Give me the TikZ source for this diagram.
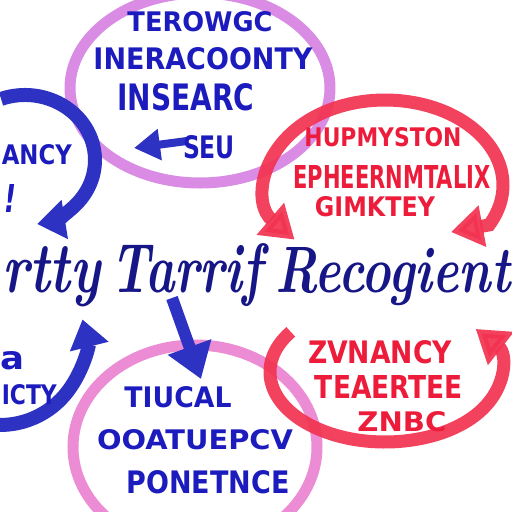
\documentclass[tikz,border=0pt]{standalone}
\usepackage{fontspec}
\setsansfont{DejaVu Sans}
\usetikzlibrary{arrows.meta,shapes.geometric}
\definecolor{tblue}{RGB}{28,28,190}
\definecolor{navy}{RGB}{22,22,135}
\definecolor{arcblue}{RGB}{45,50,195}
\definecolor{pinkv}{RGB}{218,140,228}
\definecolor{pinkb}{RGB}{236,140,212}
\definecolor{tred}{RGB}{236,28,58}
\definecolor{arcred}{RGB}{242,50,80}
\newcommand{\fitt}[3]{\resizebox{#1pt}{#2pt}{\sffamily\bfseries #3}}
\newcommand{\bigfit}[3]{\resizebox{#1pt}{#2pt}{\bfseries\itshape #3}}
\begin{document}
\begin{tikzpicture}[x=1pt,y=-1pt,
  lbl/.style={inner sep=0pt,text=tblue},
  rlbl/.style={inner sep=0pt,text=tred},
  pinkring/.style={draw,ellipse,line width=11pt,inner sep=0pt},
  bluearc/.style={draw=arcblue,line width=14pt,-{Triangle[width=38pt,length=28pt]}},
  redarc/.style={draw=arcred,line width=13pt,opacity=0.92},
  redhead/.style={-{Triangle[width=40pt,length=32pt]}},
  bigword/.style={inner sep=0pt,text=navy}]
\useasboundingbox (0,0) rectangle (512,512);
\clip (0,0) rectangle (512,512);
\fill[white] (0,0) rectangle (512,512);
% pink rings
\node[pinkring,draw=pinkv,minimum width=260pt,minimum height=190pt] (topring) at (200,88) {};
\node[pinkring,draw=pinkb,minimum width=244pt,minimum height=204pt] (botring) at (195,447) {};
% left blue arc
\draw[bluearc] (25,160) ++(-110:70 and 65) arc[start angle=-110,end angle=80,x radius=70,y radius=65];
% bottom-left blue arc
\draw[bluearc] (0,340) ++(100:85) arc[start angle=100,end angle=-14,radius=85];
% upper red arc (both ends with heads)
\coordinate (rtip) at (451,232);
\draw[redarc,{Triangle[width=40pt,length=32pt]}-{Triangle[width=40pt,length=32pt]}] (385,185) ++(140:118 and 85) arc[start angle=140,end angle=388,x radius=118,y radius=85] -- (rtip);
% lower red arc
\draw[redarc,redhead] (385,372) ++(215:115 and 70) arc[start angle=215,end angle=-38,x radius=115,y radius=70];
% small blue arrows
\coordinate (sa1) at (187,141);
\coordinate (sa2) at (134,148);
\draw[draw=arcblue,line width=8pt,-{Triangle[width=30pt,length=26pt]}] (sa1) -- (sa2);
\coordinate (ba1) at (172,298);
\coordinate (ba2) at (201,379);
\draw[draw=arcblue,line width=12pt,-{Triangle[width=44pt,length=34pt]}] (ba1) -- (ba2);
% top ring texts
\node[lbl] (t1) at (200,22) {\fitt{145}{20}{TEROWGC}};
\node[lbl] (t2) at (203,59) {\fitt{219}{22}{INERACOONTY}};
\node[lbl] (t3) at (186,97) {\fitt{137}{27}{INSEARC}};
\node[lbl] (t4) at (209,147) {\fitt{52}{23}{SEU}};
% left texts
\node[lbl,anchor=east] (l1) at (72,155) {\fitt{70}{20}{ANCY}};
\node[lbl] (l2) at (11,198) {\fitt{12}{28}{\itshape !}};
\node[lbl] (l3) at (13,361) {\fitt{24}{18}{a}};
\node[lbl,anchor=east] (l4) at (57,395) {\fitt{55}{20}{ICTY}};
% upper red texts
\node[rlbl] (r1) at (383,137) {\fitt{157}{19}{HUPMYSTON}};
\node[rlbl] (r2) at (392,177) {\fitt{197}{23}{EPHEERNMTALIX}};
\node[rlbl] (r3) at (375,207) {\fitt{120}{20}{GIMKTEY}};
% lower red texts
\node[rlbl] (r4) at (380,352) {\fitt{144}{23}{ZVNANCY}};
\node[rlbl] (r5) at (389,387) {\fitt{148}{23}{TEAERTEE}};
\node[rlbl] (r6) at (402,422) {\fitt{89}{20}{ZNBC}};
% bottom ring texts
\node[lbl] (b1) at (178,397) {\fitt{107}{21}{TIUCAL}};
\node[lbl] (b2) at (195,440) {\fitt{196}{20}{OOATUEPCV}};
\node[lbl] (b3) at (208,482) {\fitt{163}{23}{PONETNCE}};
% big handwritten line
\node[bigword,anchor=base west] (w1) at (2,292) {\bigfit{98}{46}{rtty}};
\node[bigword,anchor=base west] (w2) at (110,292) {\bigfit{152}{49}{Tarrif}};
\node[bigword,anchor=base west] (w3) at (275,292) {\bigfit{235}{45}{Recogient}};
\end{tikzpicture}
\end{document}
